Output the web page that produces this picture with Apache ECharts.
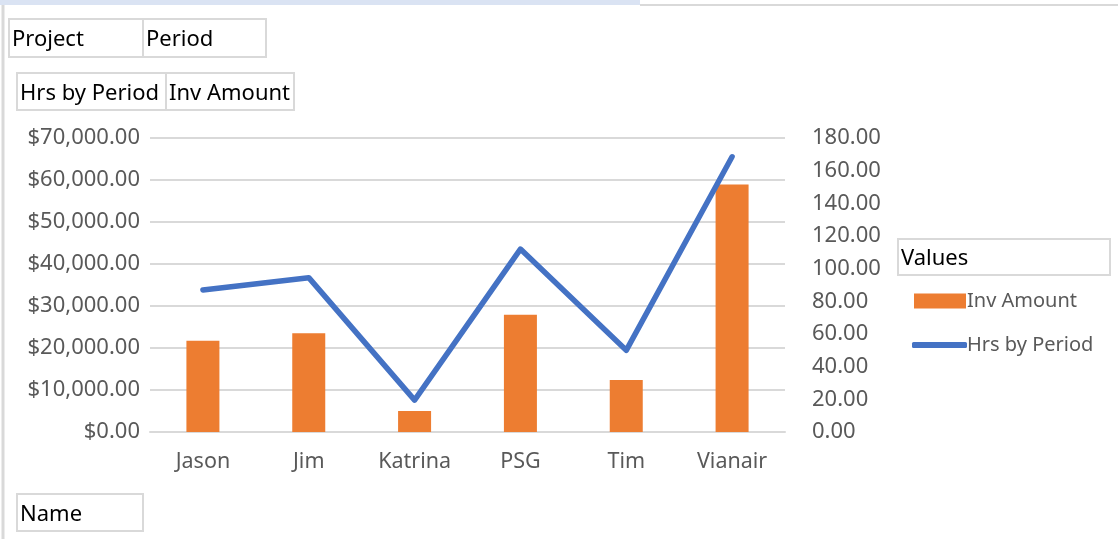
<!DOCTYPE html>
<html>
<head>
<meta charset="utf-8">
<script src="https://cdn.jsdelivr.net/npm/echarts@6/dist/echarts.min.js"></script>
<style>
  html, body { margin: 0; padding: 0; background: #fff; }
  #chart { width: 1118px; height: 539px; }
</style>
</head>
<body>
<div id="chart"></div>
<script>
  const names = ['Jason', 'Jim', 'Katrina', 'PSG', 'Tim', 'Vianair'];
  const invAmount = [21700, 23500, 5000, 27900, 12400, 58900];
  const hrsByPeriod = [87, 94.5, 19.5, 112, 50, 168.5];

  const FONT = '"Noto Sans", sans-serif';
  const GREY = '#595959';

  // field button (rect + label) for the pivot-chart look
  function fieldBtn(x, y, w, h, label) {
    return [
      { type: 'rect', shape: { x, y, width: w, height: h },
        style: { fill: '#fff', stroke: '#d9d9d9', lineWidth: 2 } },
      { type: 'text', x: x + 3, y: y + h / 2 + 2,
        style: { text: label, fill: '#000', font: '22px ' + FONT, textVerticalAlign: 'middle' } }
    ];
  }

  const chart = echarts.init(document.getElementById('chart'));

  chart.setOption({
    animation: false,
    textStyle: { fontFamily: FONT },
    grid: { left: 150, right: 333, top: 138, bottom: 107, containLabel: false },
    legend: [
      { data: ['Inv Amount'], orient: 'vertical', left: 909, top: 286,
        itemWidth: 52, itemHeight: 15, icon: 'rect',
        textStyle: { color: GREY, fontSize: 20, fontFamily: FONT, padding: [0, 0, 0, -4] } },
      { data: ['Hrs by Period'], orient: 'vertical', left: 907, top: 330,
        itemWidth: 55, itemHeight: 6, icon: 'roundRect',
        textStyle: { color: GREY, fontSize: 20, fontFamily: FONT, padding: [0, 0, 0, -5] } }
    ],
    xAxis: {
      type: 'category', data: names,
      axisLine: { lineStyle: { color: '#d9d9d9', width: 2 } },
      axisTick: { show: false },
      axisLabel: { color: GREY, fontSize: 21.5, margin: 19 }
    },
    yAxis: [
      { type: 'value', min: 0, max: 70000, interval: 10000,
        axisLabel: { color: GREY, fontSize: 22, margin: 10,
          formatter: v => '$' + v.toLocaleString('en-US', { minimumFractionDigits: 2, maximumFractionDigits: 2 }) },
        splitLine: { lineStyle: { color: '#d9d9d9', width: 2 } },
        axisLine: { show: false }, axisTick: { show: false } },
      { type: 'value', min: 0, max: 180, interval: 20, position: 'right',
        axisLabel: { color: GREY, fontSize: 22, margin: 27, formatter: v => v.toFixed(2) },
        splitLine: { show: false }, axisLine: { show: false }, axisTick: { show: false } }
    ],
    series: [
      { name: 'Inv Amount', type: 'bar', data: invAmount, barWidth: 33,
        itemStyle: { color: '#ed7d31' } },
      { name: 'Hrs by Period', type: 'line', yAxisIndex: 1, data: hrsByPeriod,
        symbol: 'none', lineStyle: { color: '#4472c4', width: 5.5, cap: 'round', join: 'round' },
        itemStyle: { color: '#4472c4' } }
    ],
    graphic: [
      { type: 'rect', shape: { x: 0, y: 0, width: 640, height: 5 }, style: { fill: '#dae3f3' } },
      { type: 'line', shape: { x1: 640, y1: 5, x2: 1118, y2: 5 }, style: { stroke: '#d9d9d9', lineWidth: 2 } },
      { type: 'line', shape: { x1: 3, y1: 5, x2: 3, y2: 539 }, style: { stroke: '#d9d9d9', lineWidth: 3 } },
      ...fieldBtn(9, 19, 134, 38, 'Project'),
      ...fieldBtn(143, 19, 123, 38, 'Period'),
      ...fieldBtn(17, 73, 149, 37, 'Hrs by Period'),
      ...fieldBtn(166, 73, 128, 37, 'Inv Amount'),
      ...fieldBtn(17, 494, 126, 37, 'Name'),
      ...fieldBtn(898, 239, 212, 36, 'Values')
    ]
  });
</script>
</body>
</html>
